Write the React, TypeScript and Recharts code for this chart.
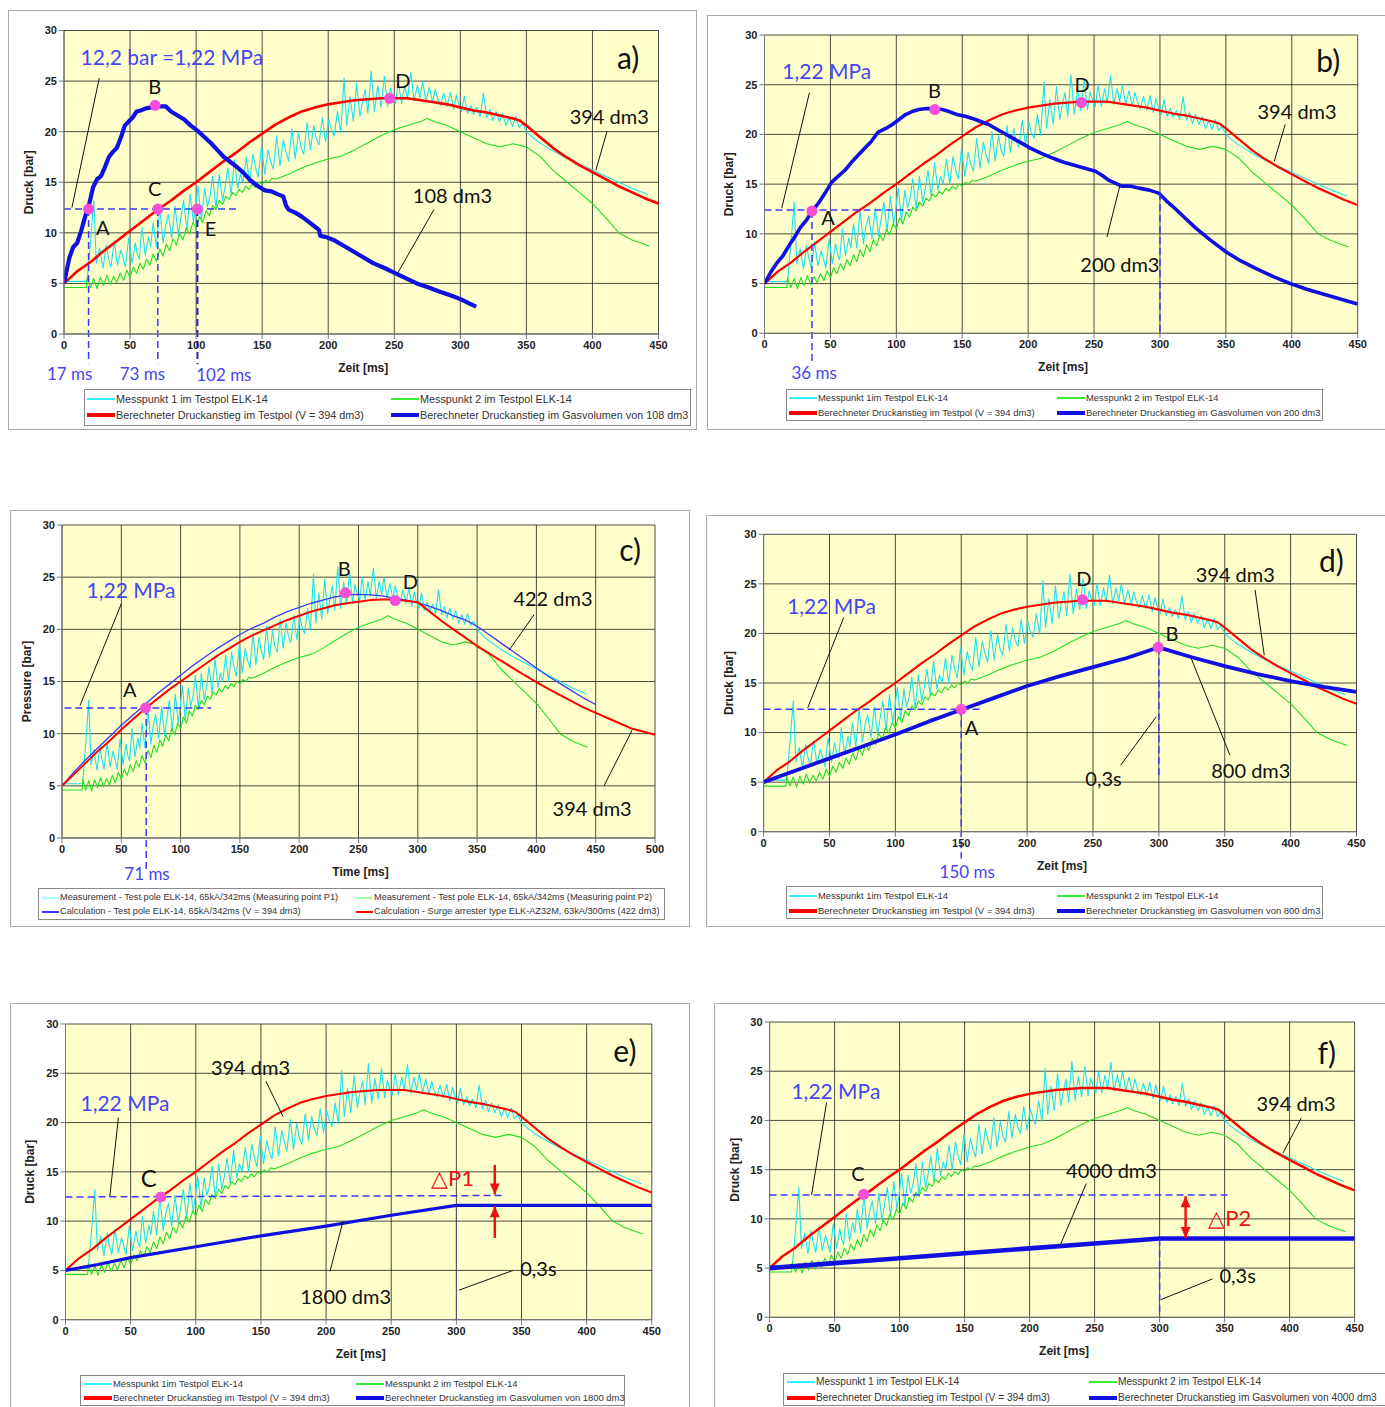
import React from 'react';
import { LineChart, Line, XAxis, YAxis, CartesianGrid, ReferenceLine, ReferenceDot } from 'recharts';

const FONT = '"Liberation Sans", Arial, sans-serif';
const NFONT = 'Lato, "Open Sans", sans-serif';
const CYAN = '#1fe0f0';
const GREEN = '#22dd22';
const RED = '#ff0000';
const BLUE = '#1010e0';
const ABLUE = '#4646f0';
const PINK = '#f54fd8';

type Pt = { t: number; v: number };
const toPts = (a: number[][]): Pt[] => a.map(([t, v]) => ({ t, v }));
const dense = (start: number, step: number, vals: number[]): Pt[] => vals.map((v, i) => ({ t: start + i * step, v }));

// ---- tick labels ----
const yTicks = [0, 5, 10, 15, 20, 25, 30];
const xTicks450 = [0, 50, 100, 150, 200, 250, 300, 350, 400, 450];
const xTicks500 = [0, 50, 100, 150, 200, 250, 300, 350, 400, 450, 500];

// ---- Messpunkt 1 (cyan) ----
const cyanPairs = [
  [0, 5.2], [17, 5.2], [17.5, 5.3], [20, 9.0], [22.5, 13.2], [24.5, 7.0], [27, 8.5], [29.5, 6.5], [32, 8.8], [33.5, 7.6],
  [35.5, 6.6], [38, 9.2], [40.5, 6.8], [43, 8.3], [44.5, 7.6], [46.5, 6.6], [49, 9.5], [51.5, 7.0], [54, 9.0], [55.5, 7.9],
  [57, 7.4], [59, 10.5], [61.5, 7.8], [64, 9.6], [65.5, 8.6], [67.5, 11.0], [70, 8.6], [72.5, 12.4], [75, 9.0], [77, 10.8],
  [79, 11.8], [81.5, 9.5], [84, 12.6], [86.5, 9.8], [88.5, 11.5], [90.5, 13.2], [93, 10.3], [95.5, 13.8], [98, 11.0],
  [99.5, 12.4], [101.5, 14.6], [104, 11.3], [106.5, 14.4], [108.5, 12.6], [110.5, 13.6], [112.5, 15.6], [115, 12.4],
  [117.5, 15.8], [120, 13.2], [122, 14.6], [124, 16.4], [126.5, 13.8], [129, 17.2], [131.5, 14.4], [133.5, 15.8],
  [135.5, 15.0], [138, 17.5], [140.5, 15.0], [143, 17.8], [145, 16.4], [147, 15.5], [149.5, 18.6], [152, 15.8],
  [154.5, 18.2], [156.5, 17.0], [158.5, 16.3], [161, 19.6], [163.5, 16.6], [166, 19.2], [168, 18.0], [170, 17.1],
  [172.5, 20.3], [175, 17.3], [177.5, 19.9], [179.5, 18.4], [181.5, 17.8], [184, 20.9], [186.5, 18.2], [189, 20.6],
  [191, 19.3], [193, 18.7], [195.5, 21.4], [198, 19.0], [200.5, 21.2], [202.5, 20.2], [204.5, 19.6], [207, 22.0],
  [209.5, 19.9], [212, 25.3], [214, 20.6], [216.5, 23.5], [219, 21.0], [221.5, 24.8], [224, 21.5], [226, 23.0],
  [228, 24.2], [230, 21.8], [232.5, 26.0], [235, 22.0], [237.5, 24.5], [240, 22.4], [242.5, 25.5], [245, 22.5],
  [247, 24.3], [249, 23.4], [251, 22.8], [253, 25.0], [255.5, 22.8], [258, 24.6], [260, 23.2], [262.5, 25.9], [265, 23.0],
  [267.5, 24.6], [269.5, 23.3], [271.5, 25.0], [274, 23.0], [276.5, 24.4], [279, 22.9], [281, 24.2], [283, 23.2],
  [285, 22.6], [287.5, 23.8], [290, 22.5], [292.5, 23.9], [295, 22.2], [297, 23.6], [299, 22.6], [301, 22.0], [303, 23.5],
  [305.5, 21.8], [308, 22.6], [310, 21.7], [312.5, 22.4], [315, 21.5], [317.5, 23.8], [320, 21.4], [322.5, 22.2],
  [324.5, 21.1], [327, 22.0], [329.5, 21.0], [332, 21.8], [334.5, 20.6], [337, 21.4], [339.5, 20.5], [342, 21.5],
  [344.5, 20.4], [347, 20.8], [350, 20.0], [355, 19.4], [360, 18.9], [370, 18.1], [380, 17.4], [390, 16.8], [400, 16.2],
  [410, 15.6], [420, 15.0], [430, 14.4], [442, 13.8],
];
const cyanData = toPts(cyanPairs);

// ---- Messpunkt 2 (green) ----
const greenHead = [[0, 4.6], [17, 4.6]];
const greenDenseStart = 17.5;
const greenDenseStep = 2.5;
const greenDense = [
  5.6, 4.6, 5.5, 4.5, 5.6, 4.8, 5.8, 4.9, 5.7, 5.1, 6.0, 5.3, 6.3, 5.6, 6.6, 6.0, 7.0, 6.4, 7.4, 6.8,
  7.9, 7.2, 8.4, 7.7, 8.9, 8.2, 9.4, 8.8, 9.9, 9.3, 10.5, 9.9, 11.0, 10.5, 11.6, 11.0, 12.2, 11.7, 12.7, 12.3,
  13.2, 12.8, 13.6, 13.3, 14.0, 13.7, 14.3, 14.0, 14.6, 14.3, 14.8, 14.5, 15.0, 14.8, 15.2, 15.0, 15.4, 15.3,
];
const greenTail = [
  [170, 15.8], [180, 16.4], [190, 16.9], [200, 17.3], [210, 17.6], [220, 18.2], [230, 18.9], [240, 19.6], [250, 20.2],
  [260, 20.6], [270, 21.0], [275, 21.3], [280, 21.0], [290, 20.6], [300, 20.0], [310, 19.4], [320, 18.8], [330, 18.5],
  [340, 18.8], [350, 18.5], [360, 17.6], [370, 16.2], [380, 15.1], [390, 14.0], [400, 12.9], [410, 11.5], [420, 10.0],
  [430, 9.3], [443, 8.7],
];
const greenData = [...toPts(greenHead), ...dense(greenDenseStart, greenDenseStep, greenDense), ...toPts(greenTail)];

// ---- Berechneter Druckanstieg im Testpol (V = 394 dm3) ----
const red394 = toPts([
  [0, 5], [5, 5.6], [10, 6.2], [20, 7.1], [30, 8.2], [40, 9.2], [50, 10.2], [60, 11.2], [70, 12.2], [80, 13.1],
  [90, 14.1], [100, 15.0], [110, 16.0], [120, 17.0], [130, 17.9], [140, 18.9], [150, 19.8], [160, 20.7], [170, 21.4],
  [180, 22.0], [190, 22.4], [200, 22.7], [210, 22.9], [220, 23.1], [230, 23.2], [240, 23.3], [250, 23.3], [260, 23.3],
  [270, 23.1], [280, 22.9], [290, 22.7], [300, 22.4], [310, 22.1], [320, 21.9], [330, 21.6], [340, 21.3], [345, 21.1],
  [350, 20.6], [360, 19.5], [370, 18.4], [380, 17.5], [390, 16.7], [400, 16.0], [410, 15.3], [420, 14.6], [430, 14.0],
  [440, 13.4], [450, 12.9],
]);

// ---- panel c calculations ----
const calc394c = toPts([
  [0, 5], [10, 6.3], [20, 7.5], [30, 8.6], [40, 9.7], [50, 10.8], [60, 11.8], [70, 12.8], [80, 13.8], [90, 14.7],
  [100, 15.6], [110, 16.5], [120, 17.3], [130, 18.1], [140, 18.8], [150, 19.5], [160, 20.1], [170, 20.6], [180, 21.2],
  [190, 21.7], [200, 22.1], [210, 22.5], [220, 22.8], [230, 23.1], [240, 23.3], [250, 23.35], [260, 23.3], [270, 23.2],
  [280, 23.0], [290, 22.8], [300, 22.55], [310, 22.2], [320, 21.8], [330, 21.3], [340, 20.9], [350, 20.3], [360, 19.5],
  [370, 18.7], [380, 17.9], [390, 17.1], [400, 16.3], [410, 15.5], [420, 14.8], [430, 14.1], [440, 13.4], [450, 12.8],
]);
const calc422c = toPts([
  [0, 5], [10, 6.1], [20, 7.2], [30, 8.3], [40, 9.3], [50, 10.4], [60, 11.4], [70, 12.4], [80, 13.3], [90, 14.2],
  [100, 15.0], [110, 15.8], [120, 16.6], [130, 17.4], [140, 18.1], [150, 18.8], [160, 19.4], [170, 19.9], [180, 20.4],
  [190, 20.9], [200, 21.3], [210, 21.7], [220, 22.0], [230, 22.3], [240, 22.5], [250, 22.65], [260, 22.8], [270, 22.85],
  [280, 22.85], [290, 22.75], [300, 22.6], [310, 21.7], [320, 20.8], [330, 20.0], [340, 19.2], [350, 18.4], [360, 17.7],
  [370, 17.0], [380, 16.3], [390, 15.6], [400, 14.95], [410, 14.3], [420, 13.7], [430, 13.1], [440, 12.5], [450, 12.0],
  [460, 11.5], [470, 11.0], [480, 10.5], [490, 10.2], [500, 9.9],
]);

// ---- gas volume calculations ----
const blue108 = toPts([
  [0, 5], [4, 7.5], [7, 8.6], [10, 9.0], [13, 10.2], [16, 11.6], [19, 12.8], [22, 14.5], [25, 15.3], [28, 15.6],
  [31, 16.5], [34, 17.5], [37, 18.0], [40, 18.4], [43, 19.4], [46, 20.6], [49, 21.0], [52, 21.4], [55, 22.0], [58, 22.1],
  [62, 22.3], [66, 22.4], [69, 22.6], [73, 22.5], [77, 22.5], [81, 22.0], [86, 21.6], [91, 21.2], [96, 20.6], [101, 20.1],
  [106, 19.5], [111, 18.9], [116, 18.2], [121, 17.5], [126, 17.0], [131, 16.5], [136, 15.9], [141, 15.2], [147, 14.6],
  [152, 14.2], [157, 14.1], [162, 13.8], [166, 13.6], [168, 12.7], [170, 12.3], [175, 12.0], [180, 11.6], [185, 11.1],
  [190, 10.6], [193, 10.3], [194, 9.7], [198, 9.6], [204, 9.3], [212, 8.7], [221, 8.0], [234, 7.0], [243, 6.5], [251, 6.0],
  [259, 5.5], [267, 5.0], [276, 4.6], [284, 4.2], [293, 3.8], [301, 3.4], [307, 3.0], [312, 2.7],
]);
const blue200 = toPts([
  [0, 5], [5, 6.2], [9, 7.0], [14, 7.8], [19, 8.9], [23, 9.7], [27, 10.6], [32, 11.4], [36, 12.3], [41, 13.1], [45, 13.9],
  [51, 15.2], [56, 15.8], [61, 16.4], [66, 17.2], [71, 17.9], [76, 18.6], [81, 19.3], [86, 20.2], [92, 20.6], [97, 21.0],
  [102, 21.5], [107, 22.0], [112, 22.3], [117, 22.5], [123, 22.6], [129, 22.6], [135, 22.5], [140, 22.3], [146, 22.0],
  [153, 21.8], [160, 21.5], [170, 21.0], [178, 20.4], [186, 19.8], [194, 19.2], [202, 18.6], [210, 18.1], [219, 17.6],
  [227, 17.2], [235, 16.9], [243, 16.6], [251, 16.3], [256, 15.9], [261, 15.4], [266, 15.1], [271, 14.8], [278, 14.8],
  [284, 14.6], [292, 14.4], [299, 14.1], [305, 13.3], [311, 12.6], [319, 11.6], [327, 10.6], [338, 9.4], [350, 8.2],
  [361, 7.3], [373, 6.5], [386, 5.7], [399, 5.0], [412, 4.4], [425, 3.9], [438, 3.4], [450, 2.95],
]);
const blue800 = toPts([
  [0, 5], [25, 6.2], [50, 7.4], [75, 8.6], [100, 9.8], [125, 11.1], [150, 12.3], [175, 13.5], [200, 14.7], [225, 15.7],
  [250, 16.6], [275, 17.5], [300, 18.6], [325, 17.6], [350, 16.7], [375, 15.9], [400, 15.2], [425, 14.6], [450, 14.1],
]);
const blue1800 = toPts([
  [0, 5], [25, 5.6], [50, 6.3], [100, 7.4], [150, 8.5], [200, 9.5], [250, 10.6], [300, 11.6], [450, 11.6],
]);
const blue4000 = toPts([
  [0, 5], [50, 5.5], [100, 6.0], [150, 6.5], [200, 7.0], [250, 7.5], [300, 8.0], [450, 8.0],
]);

// ---- legend labels ----
const legendA = [
  'Messpunkt 1 im Testpol ELK-14', 'Messpunkt 2 im Testpol ELK-14',
  'Berechneter Druckanstieg im Testpol (V = 394 dm3)', 'Berechneter Druckanstieg im Gasvolumen von 108 dm3',
];
const legendB = [
  'Messpunkt 1im Testpol ELK-14', 'Messpunkt 2 im Testpol ELK-14',
  'Berechneter Druckanstieg im Testpol (V = 394 dm3)', 'Berechneter Druckanstieg im Gasvolumen von 200 dm3',
];
const legendC = [
  'Measurement - Test pole ELK-14, 65kA/342ms (Measuring point P1)',
  'Measurement - Test pole ELK-14, 65kA/342ms (Measuring point P2)',
  'Calculation - Test pole ELK-14, 65kA/342ms (V = 394 dm3)',
  'Calculation - Surge arrester type ELK-AZ32M, 63kA/300ms (422 dm3)',
];
const legendD = [
  'Messpunkt 1im Testpol ELK-14', 'Messpunkt 2 im Testpol ELK-14',
  'Berechneter Druckanstieg im Testpol (V = 394 dm3)', 'Berechneter Druckanstieg im Gasvolumen von 800 dm3',
];
const legendE = [
  'Messpunkt 1im Testpol ELK-14', 'Messpunkt 2 im Testpol ELK-14',
  'Berechneter Druckanstieg im Testpol (V = 394 dm3)', 'Berechneter Druckanstieg im Gasvolumen von 1800 dm3',
];
const legendF = [
  'Messpunkt 1 im Testpol ELK-14', 'Messpunkt 2 im Testpol ELK-14',
  'Berechneter Druckanstieg im Testpol (V = 394 dm3)', 'Berechneter Druckanstieg im Gasvolumen von 4000 dm3',
];

type Note =
  | { k: 'txt'; t: number; p: number; s: string; c?: string; z?: number }
  | { k: 'dot'; t: number; p: number }
  | { k: 'seg'; a: [number, number]; b: [number, number]; c?: string; w?: number; d?: string }
  | { k: 'arr'; a: [number, number]; b: [number, number]; both?: boolean };

const DASH = '7 4';
const txt = (t: number, p: number, s: string, c = '#111', z = 20): Note => ({ k: 'txt', t, p, s, c, z });
const dot = (t: number, p: number): Note => ({ k: 'dot', t, p });
const dash = (a: [number, number], b: [number, number], c = '#3a3aff', w = 1.5, d = DASH): Note => ({ k: 'seg', a, b, c, w, d });
const lead = (a: [number, number], b: [number, number]): Note => ({ k: 'seg', a, b, c: '#111', w: 1 });

const notesA: Note[] = [
  dash([0, 12.35], [132, 12.35]), dash([18.6, 12.35], [18.6, -2.9]), dash([71, 12.35], [71, -2.9]),
  dash([101, 12.35], [101, -3.0], '#2525c8', 2),
  lead([6, 12.5], [26.7, 25.3]), lead([411, 20], [402.6, 16.2]), lead([280, 12.3], [252.5, 6.0]),
  dot(18.6, 12.35), dot(69, 22.6), dot(71, 12.35), dot(101, 12.35), dot(246.5, 23.3),
  txt(81.6, 27.4, '12,2 bar =1,22 MPa', ABLUE, 21), txt(68.6, 24.5, 'B'), txt(68.6, 14.4, 'C'), txt(29.3, 10.6, 'A'),
  txt(111, 10.45, 'E'), txt(256.5, 25.1, 'D'), txt(427, 27.4, 'a)', '#111', 30), txt(412.7, 21.5, '394 dm3'),
  txt(294, 13.75, '108 dm3'), txt(4.3, -3.9, '17 ms', ABLUE, 17), txt(59.3, -3.9, '73 ms', ABLUE, 17),
  txt(121, -4.05, '102 ms', ABLUE, 17),
];
const notesB: Note[] = [
  dash([0, 12.4], [110.5, 12.4]), dash([36, 12.3], [36, -2.85]), dash([300, 14.1], [300, 0]),
  lead([34.1, 24.2], [13.1, 12.6]), lead([259.8, 9.7], [269.6, 14.85]), lead([395, 21], [386.7, 17.3]),
  dot(36, 12.3), dot(129.2, 22.5), dot(240.4, 23.2),
  txt(47.2, 26.4, '1,22 MPa', ABLUE, 21), txt(48.2, 11.7, 'A'), txt(37.7, -3.9, '36 ms', ABLUE, 17),
  txt(129, 24.5, 'B'), txt(241, 25.1, 'D'), txt(269.6, 7.0, '200 dm3'), txt(404, 22.4, '394 dm3'),
  txt(427.7, 27.5, 'b)', '#111', 30),
];
const notesC: Note[] = [
  dash([2, 12.45], [126, 12.45]), dash([71, 12.45], [71, -3.2]),
  lead([50.2, 22.5], [15.2, 12.7]), lead([398, 21.4], [377, 18.0]), lead([457, 5.0], [480.6, 10.3]),
  dot(70.4, 12.47), dot(239, 23.5), dot(280.9, 22.76),
  txt(58.2, 23.8, '1,22 MPa', ABLUE, 21), txt(57.2, 14.3, 'A'), txt(71.7, -3.45, '71 ms', ABLUE, 17),
  txt(238, 25.9, 'B'), txt(293.8, 24.6, 'D'), txt(414, 23.0, '422 dm3'), txt(447, 2.9, '394 dm3'),
  txt(479, 27.7, 'c)', '#111', 30),
];
const notesD: Note[] = [
  dash([0, 12.35], [164, 12.35]), dash([150, 12.35], [150, -2.7]), dash([300, 18.6], [300, 5.55]),
  lead([60.8, 21.6], [33.5, 12.5]), lead([271, 6.7], [298, 11.6]), lead([354, 7.7], [324.5, 17.5]),
  lead([373, 24.4], [380, 17.8]),
  dot(150, 12.35), dot(242, 23.4), dot(299.5, 18.6),
  txt(51.6, 22.8, '1,22 MPa', ABLUE, 21), txt(157.8, 10.6, 'A'), txt(154.5, -4.0, '150 ms', ABLUE, 17),
  txt(243, 25.6, 'D'), txt(310, 20.0, 'B'), txt(258, 5.4, '0,3s'), txt(369.8, 6.2, '800 dm3'),
  txt(358, 26, '394 dm3'), txt(431, 27.4, 'd)', '#111', 30),
];
const notesE: Note[] = [
  dash([0, 12.45], [337, 12.6]), dash([300, 11.6], [300, 0], '#3a3ab0', 1, '2 2'),
  lead([40.6, 20.5], [34, 12.5]), lead([153.8, 24.2], [167, 20.6]), lead([203, 4.9], [213, 10]),
  lead([343.5, 5.0], [302, 3.0]),
  { k: 'arr', a: [329.5, 15.7], b: [329.5, 12.7] }, { k: 'arr', a: [329.5, 8.3], b: [329.5, 11.5] },
  dot(73.2, 12.45),
  txt(45.6, 22.05, '1,22 MPa', ABLUE, 21), txt(64, 14.4, 'C', '#111', 24), txt(142, 25.6, '394 dm3'),
  txt(215, 2.4, '1800 dm3'), txt(363, 5.2, '0,3s'), txt(297, 14.4, '△P1', '#ee1111', 22),
  txt(429.4, 27.4, 'e)', '#111', 30),
];
const notesF: Note[] = [
  dash([0, 12.43], [354, 12.43]), dash([300, 7.96], [300, 0]),
  lead([43.8, 21.8], [32.3, 12.43]), lead([243.6, 13.6], [223.8, 7.4]), lead([340.7, 3.9], [301, 1.8]),
  lead([409, 20.25], [395, 16.7]),
  { k: 'arr', a: [320, 8.05], b: [320, 12.3], both: true },
  dot(72.4, 12.5),
  txt(51, 23.06, '1,22 MPa', ABLUE, 21), txt(68, 14.7, 'C'), txt(263, 15, '4000 dm3'), txt(360, 4.33, '0,3s'),
  txt(354, 10.1, '△P2', '#ee1111', 22), txt(405, 21.8, '394 dm3'), txt(428.6, 27, 'f)', '#111', 30),
];

const arrowShape = (both: boolean) => (pr: any) => {
  const { x1, y1, x2, y2 } = pr;
  const ang = Math.atan2(y2 - y1, x2 - x1);
  const L = 11;
  const W = 5;
  const head = (x: number, y: number, a: number) => {
    const bx = x - L * Math.cos(a);
    const by = y - L * Math.sin(a);
    return `${x},${y} ${bx + W * Math.sin(a)},${by - W * Math.cos(a)} ${bx - W * Math.sin(a)},${by + W * Math.cos(a)}`;
  };
  return (
    <g>
      <line x1={x1} y1={y1} x2={x2} y2={y2} stroke="#ee1111" strokeWidth={2.5} />
      <polygon points={head(x2, y2, ang)} fill="#ee1111" />
      {both ? <polygon points={head(x1, y1, ang + Math.PI)} fill="#ee1111" /> : null}
    </g>
  );
};

const renderNote = (n: Note, i: number) => {
  if (n.k === 'txt') {
    return (
      <ReferenceDot
        key={i}
        x={n.t}
        y={n.p}
        r={1}
        ifOverflow="visible"
        shape={(pr: any) => (
          <text x={pr.cx} y={pr.cy} textAnchor="middle" dominantBaseline="central" fontFamily={NFONT}
            fontSize={n.z} fill={n.c}>{n.s}</text>
        )}
      />
    );
  }
  if (n.k === 'dot') {
    return <ReferenceDot key={i} x={n.t} y={n.p} r={5.5} fill={PINK} stroke="none" ifOverflow="visible" />;
  }
  if (n.k === 'seg') {
    return (
      <ReferenceLine key={i} segment={[{ x: n.a[0], y: n.a[1] }, { x: n.b[0], y: n.b[1] }]} stroke={n.c}
        strokeWidth={n.w} strokeDasharray={n.d} ifOverflow="visible" />
    );
  }
  return (
    <ReferenceLine key={i} segment={[{ x: n.a[0], y: n.a[1] }, { x: n.b[0], y: n.b[1] }]} ifOverflow="visible"
      shape={arrowShape(!!n.both)} />
  );
};

type Series = { data: Pt[]; c: string; w: number };
type LegendCfg = { x: number; y: number; w: number; h: number; c1: number; c2: number; lw: number; rows: number[]; fs: number; items: { s: string; c: string; w: number }[] };
type PanelCfg = {
  box: { x: number; y: number; w: number; h: number };
  plot: { l: number; t: number; r: number; b: number };
  xMax: number; xTicks: number[]; series: Series[]; notes: Note[]; legend: LegendCfg; xTitle: string; yTitle: string;
};

const stdSeries = (blue: Pt[], bw: number, rw: number): Series[] => [
  { data: cyanData, c: CYAN, w: 1.1 },
  { data: greenData, c: GREEN, w: 1.1 },
  { data: red394, c: RED, w: rw },
  { data: blue, c: BLUE, w: bw },
];
const stdItems = (labels: string[], bw: number) => [
  { s: labels[0], c: '#33eeff', w: 2 },
  { s: labels[1], c: '#33ee33', w: 2 },
  { s: labels[2], c: RED, w: 3.5 },
  { s: labels[3], c: BLUE, w: bw },
];

const panels: PanelCfg[] = [
  {
    box: { x: 8, y: 10, w: 689, h: 420 }, plot: { l: 64, t: 30.5, r: 658.5, b: 334 }, xMax: 450, xTicks: xTicks450,
    series: stdSeries(blue108, 4.2, 2.6), notes: notesA, xTitle: 'Zeit [ms]', yTitle: 'Druck [bar]',
    legend: { x: 84, y: 389, w: 607, h: 37, c1: 2, c2: 306, lw: 28, rows: [9, 25], fs: 10.8, items: stdItems(legendA, 4.5) },
  },
  {
    box: { x: 707, y: 15, w: 680, h: 415 }, plot: { l: 764.5, t: 35, r: 1357.7, b: 333.3 }, xMax: 450, xTicks: xTicks450,
    series: stdSeries(blue200, 3.6, 2.2), notes: notesB, xTitle: 'Zeit [ms]', yTitle: 'Druck [bar]',
    legend: { x: 786, y: 389, w: 537, h: 32, c1: 2, c2: 270, lw: 28, rows: [8, 23], fs: 9.45, items: stdItems(legendB, 4) },
  },
  {
    box: { x: 10, y: 510, w: 680, h: 417 }, plot: { l: 62, t: 525, r: 655, b: 838 }, xMax: 500, xTicks: xTicks500,
    series: [
      { data: cyanData, c: CYAN, w: 1.1 },
      { data: greenData, c: GREEN, w: 1.1 },
      { data: calc394c, c: '#3a3aff', w: 1.3 },
      { data: calc422c, c: RED, w: 2 },
    ],
    notes: notesC, xTitle: 'Time [ms]', yTitle: 'Pressure [bar]',
    legend: {
      x: 38, y: 888, w: 627, h: 32, c1: 3, c2: 317, lw: 17, rows: [9, 23], fs: 9.2,
      items: [
        { s: legendC[0], c: '#a6ffff', w: 2 }, { s: legendC[1], c: '#a6ffa6', w: 2 },
        { s: legendC[2], c: '#3a3aff', w: 2 }, { s: legendC[3], c: RED, w: 2 },
      ],
    },
  },
  {
    box: { x: 706, y: 515, w: 681, h: 412 }, plot: { l: 763.6, t: 534.3, r: 1356.5, b: 831.7 }, xMax: 450, xTicks: xTicks450,
    series: stdSeries(blue800, 3.8, 2.1), notes: notesD, xTitle: 'Zeit [ms]', yTitle: 'Druck [bar]',
    legend: { x: 786, y: 886, w: 537, h: 33, c1: 2, c2: 270, lw: 28, rows: [9, 24], fs: 9.45, items: stdItems(legendD, 4) },
  },
  {
    box: { x: 10, y: 1003, w: 680, h: 406 }, plot: { l: 65.5, t: 1024, r: 651.8, b: 1319.7 }, xMax: 450, xTicks: xTicks450,
    series: stdSeries(blue1800, 3.2, 2.1), notes: notesE, xTitle: 'Zeit [ms]', yTitle: 'Druck [bar]',
    legend: { x: 80, y: 1375, w: 545, h: 31, c1: 3, c2: 275, lw: 28, rows: [8, 22], fs: 9.45, items: stdItems(legendE, 4) },
  },
  {
    box: { x: 714, y: 1003, w: 673, h: 406 }, plot: { l: 769.6, t: 1022, r: 1354.6, b: 1317.3 }, xMax: 450, xTicks: xTicks450,
    series: stdSeries(blue4000, 4.6, 2.5), notes: notesF, xTitle: 'Zeit [ms]', yTitle: 'Druck [bar]',
    legend: { x: 783, y: 1373, w: 604, h: 33, c1: 3, c2: 305, lw: 28, rows: [8, 24], fs: 10.2, items: stdItems(legendF, 4.5) },
  },
];

const YW = 45;
const XH = 30;
const tickStyle = { fontSize: 11, fontWeight: 700, fill: '#222', fontFamily: FONT };

const xTitleFn = (text: string) => (props: any) => {
  const vb = props.viewBox || {};
  return (
    <text x={vb.x + vb.width / 2 + 2} y={vb.y + 34} textAnchor="middle" dominantBaseline="central"
      fontFamily={FONT} fontWeight={700} fontSize={12} fill="#222">{text}</text>
  );
};
const yTitleFn = (text: string) => (props: any) => {
  const vb = props.viewBox || {};
  const cx = vb.x + vb.width - 35;
  const cy = vb.y + vb.height / 2;
  return (
    <text x={cx} y={cy} transform={`rotate(-90 ${cx} ${cy})`} textAnchor="middle" dominantBaseline="central"
      fontFamily={FONT} fontWeight={700} fontSize={12} fill="#222">{text}</text>
  );
};

function LegendBox({ lg, box }: { lg: LegendCfg; box: PanelCfg['box'] }) {
  return (
    <div style={{
      position: 'absolute', left: lg.x - box.x, top: lg.y - box.y, width: lg.w, height: lg.h,
      border: '1px solid #8a8a8a', boxSizing: 'border-box', background: '#fff', fontFamily: FONT,
      fontSize: lg.fs, color: '#333',
    }}>
      {lg.items.map((it, i) => {
        const col = i % 2;
        const row = Math.floor(i / 2);
        const lx = col ? lg.c2 : lg.c1;
        const y = lg.rows[row];
        return (
          <React.Fragment key={i}>
            <div style={{ position: 'absolute', left: lx, top: y - it.w / 2, width: lg.lw, height: it.w, background: it.c }} />
            <div style={{ position: 'absolute', left: lx + lg.lw + 1, top: y - lg.fs * 0.6, lineHeight: `${lg.fs * 1.2}px`, whiteSpace: 'nowrap' }}>{it.s}</div>
          </React.Fragment>
        );
      })}
    </div>
  );
}

function Panel({ cfg }: { cfg: PanelCfg }) {
  const { box, plot } = cfg;
  const margin = {
    left: plot.l - box.x - YW,
    top: plot.t - box.y,
    right: box.x + box.w - plot.r,
    bottom: box.y + box.h - plot.b - XH,
  };
  return (
    <div style={{ position: 'absolute', left: box.x, top: box.y, width: box.w, height: box.h, background: '#fff' }}>
      <LineChart width={box.w} height={box.h} margin={margin}>
        <CartesianGrid stroke="#1e1e1e" strokeWidth={0.8} fill="#FFFFCC" fillOpacity={1} />
        <XAxis type="number" dataKey="t" domain={[0, cfg.xMax]} ticks={cfg.xTicks} interval={0} allowDataOverflow
          height={XH} tick={tickStyle} tickSize={5} tickLine={{ stroke: '#777' }} axisLine={{ stroke: '#777' }}
          label={xTitleFn(cfg.xTitle)} />
        <YAxis type="number" domain={[0, 30]} ticks={yTicks} interval={0} allowDataOverflow width={YW}
          tick={tickStyle} tickSize={5} tickLine={{ stroke: '#777' }} axisLine={{ stroke: '#777' }}
          label={yTitleFn(cfg.yTitle)} />
        {cfg.series.map((s, i) => (
          <Line key={i} data={s.data} dataKey="v" type="linear" stroke={s.c} strokeWidth={s.w} dot={false}
            activeDot={false} isAnimationActive={false} strokeLinejoin="round" />
        ))}
        {cfg.notes.map(renderNote)}
      </LineChart>
      <LegendBox lg={cfg.legend} box={box} />
      <div style={{ position: 'absolute', left: 0, top: 0, width: box.w, height: box.h, border: '1.5px solid #a8a8a8', boxSizing: 'border-box', pointerEvents: 'none' }} />
    </div>
  );
}

export default function App() {
  return (
    <div style={{ position: 'fixed', left: 0, top: 0, width: 1385, height: 1407, overflow: 'hidden', background: '#fff' }}>
      {panels.map((p, i) => <Panel key={i} cfg={p} />)}
    </div>
  );
}
